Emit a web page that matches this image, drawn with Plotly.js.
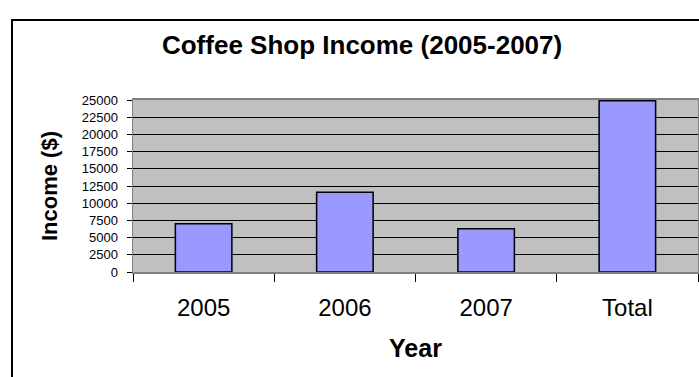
<!DOCTYPE html>
<html>
<head>
<meta charset="utf-8">
<script src="https://cdn.plot.ly/plotly-3.0.1.min.js"></script>
<style>
  html, body { margin: 0; padding: 0; background: #fff; }
  #wrap { position: relative; width: 699px; height: 377px; overflow: hidden; }
  #chart { position: absolute; left: 0; top: 0; width: 699px; height: 377px; }
  #frame { position: absolute; left: 11px; top: 19px; width: 720px; height: 400px;
           border-left: 2px solid #000; border-top: 2px solid #000; pointer-events: none; }
</style>
</head>
<body>
<div id="wrap">
  <div id="chart"></div>
  <div id="frame"></div>
</div>
<script>
const years = ['2005', '2006', '2007', 'Total'];
const income = [7000, 11600, 6300, 24900];
const yTicks = [0, 2500, 5000, 7500, 10000, 12500, 15000, 17500, 20000, 22500, 25000];
const chartTitle = 'Coffee Shop Income (2005-2007)';
const xTitle = 'Year';
const yTitle = 'Income ($)';

const trace = {
  type: 'bar',
  x: years,
  y: income,
  marker: { color: '#9999FF', line: { color: '#000000', width: 1.5 } },
  hoverinfo: 'x+y'
};

const font = 'Arial, "Liberation Sans", sans-serif';

const layout = {
  width: 699,
  height: 377,
  margin: { l: 133, r: 1, t: 100, b: 105, pad: 0 },
  paper_bgcolor: '#ffffff',
  plot_bgcolor: '#C0C0C0',
  showlegend: false,
  bargap: 0.6,
  font: { family: font, color: '#000' },
  title: {
    text: '<b>' + chartTitle + '</b>',
    font: { family: font, size: 26, color: '#000' },
    x: 0.518, xref: 'container', xanchor: 'center',
    y: 0.88, yref: 'container', yanchor: 'middle'
  },
  xaxis: {
    type: 'category',
    tickson: 'boundaries',
    ticks: 'outside',
    ticklen: 8,
    tickcolor: '#000',
    tickwidth: 1,
    showline: true,
    linecolor: '#808080',
    linewidth: 2,
    mirror: true,
    showgrid: false,
    tickfont: { family: font, size: 24, color: '#000' },
    ticklabelstandoff: 13,
    title: { text: '<b>' + xTitle + '</b>', font: { family: font, size: 25, color: '#000' }, standoff: 20 }
  },
  yaxis: {
    range: [0, 25000],
    tickvals: yTicks,
    ticktext: yTicks.map(String),
    ticks: 'outside',
    ticklen: 5,
    tickcolor: '#000',
    tickwidth: 1,
    showline: true,
    linecolor: '#808080',
    linewidth: 1.5,
    mirror: true,
    showgrid: true,
    gridcolor: '#000000',
    gridwidth: 1,
    zeroline: false,
    tickfont: { family: font, size: 13, color: '#000' },
    ticklabelstandoff: 6,
    title: { text: '<b>' + yTitle + '</b>', font: { family: font, size: 22, color: '#000' }, standoff: 18 }
  }
};

Plotly.newPlot('chart', [trace], layout, { displayModeBar: false, staticPlot: true });
</script>
</body>
</html>
